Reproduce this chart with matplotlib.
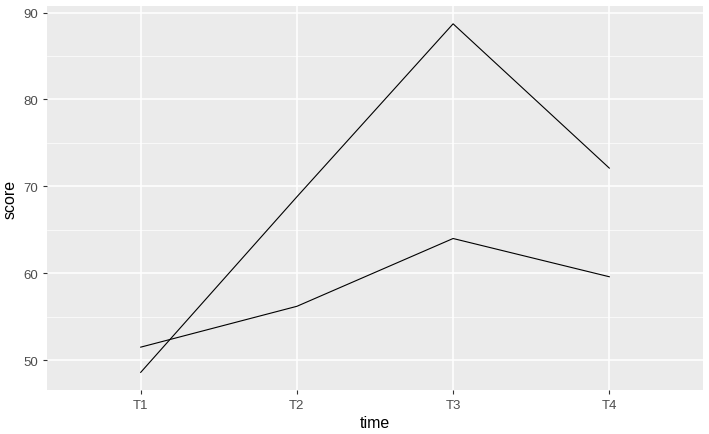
import matplotlib.pyplot as plt

plt.rcParams['font.family'] = ['Liberation Sans', 'DejaVu Sans']

# score over time for two subjects
times = ['T1', 'T2', 'T3', 'T4']
score_a = [48.6, 68.8, 88.7, 72.1]
score_b = [51.5, 56.2, 64.0, 59.6]

fig = plt.figure(figsize=(7.09, 4.35), dpi=100)
ax = fig.add_axes([47 / 709, 1 - 391 / 435, 656 / 709, 384 / 435])
ax.set_facecolor('#EBEBEB')

x = range(len(times))
ax.plot(x, score_a, color='black', linewidth=0.8)
ax.plot(x, score_b, color='black', linewidth=0.8)

ax.set_xlim(-0.6, 3.6)
ax.set_ylim(46.57, 90.75)
ax.set_xticks(list(x))
ax.set_xticklabels(times)
ax.set_yticks([50, 60, 70, 80, 90])
ax.set_yticks([55, 65, 75, 85], minor=True)

ax.grid(True, which='major', color='white', linewidth=1.1)
ax.grid(True, which='minor', axis='y', color='white', linewidth=0.5)
ax.set_axisbelow(True)
for s in ax.spines.values():
    s.set_visible(False)

ax.tick_params(axis='both', which='major', colors='#333333', labelcolor='#4D4D4D',
               labelsize=9.5, length=3, width=0.8)
ax.tick_params(axis='y', which='minor', length=0)

ax.set_xlabel('time', fontsize=11.5, labelpad=3)
ax.set_ylabel('score', fontsize=11.5, labelpad=4)

fig.savefig('out.png', dpi=100)
